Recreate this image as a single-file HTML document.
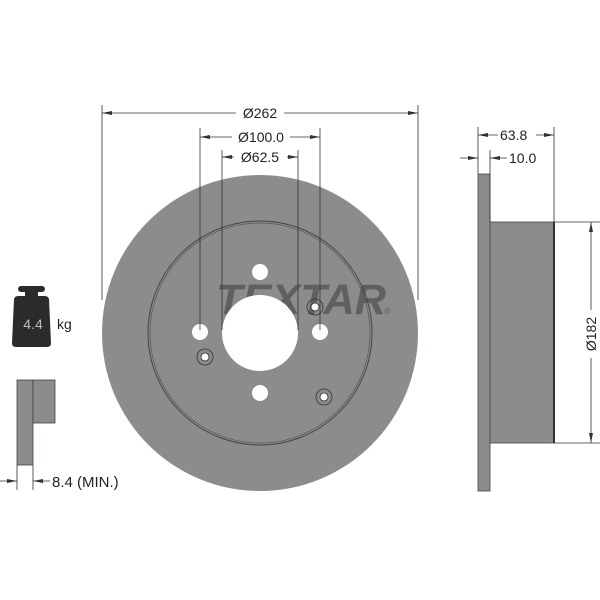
<!DOCTYPE html>
<html><head><meta charset="utf-8"><style>html,body{margin:0;padding:0;background:#fff}svg{display:block}</style></head><body>
<svg width="600" height="600" viewBox="0 0 600 600" xmlns="http://www.w3.org/2000/svg" font-family="Liberation Sans, sans-serif">
<defs>
<marker id="a" viewBox="0 0 10 6" refX="10" refY="3" markerWidth="10" markerHeight="6" orient="auto-start-reverse" markerUnits="userSpaceOnUse"><path d="M0,1 L10,3 L0,5 z" fill="#333"/></marker>
</defs>
<circle cx="260" cy="333" r="158" fill="#8a8c8e"/>
<text x="216" y="314" font-size="43" font-weight="bold" font-style="italic" fill="#5e6062" textLength="170" lengthAdjust="spacingAndGlyphs">TEXTAR</text>
<text x="384" y="314" font-size="9" fill="#5e6062">®</text>
<circle cx="260" cy="333" r="112" fill="none" stroke="#444" stroke-width="1"/>
<circle cx="260" cy="333" r="110" fill="none" stroke="#555" stroke-width="0.7"/>
<circle cx="260" cy="333" r="38" fill="#fff"/>
<g fill="#fff">
<circle cx="260" cy="272" r="8"/><circle cx="200" cy="332" r="8"/><circle cx="320" cy="332" r="8"/><circle cx="260" cy="393" r="8"/>
</g>
<g stroke="#333" stroke-width="0.8">
<circle cx="315" cy="307" r="8" fill="none"/><circle cx="315" cy="307" r="4" fill="#fff"/>
<circle cx="205" cy="357" r="8" fill="none"/><circle cx="205" cy="357" r="4" fill="#fff"/>
<circle cx="324" cy="397" r="8" fill="none"/><circle cx="324" cy="397" r="4" fill="#fff"/>
</g>
<g stroke="#333" stroke-width="0.8" fill="none">
<line x1="102" y1="105" x2="102" y2="300"/><line x1="418" y1="105" x2="418" y2="300"/>
<line x1="200" y1="128" x2="200" y2="330"/><line x1="320" y1="128" x2="320" y2="330"/>
<line x1="222" y1="150" x2="222" y2="330"/><line x1="298" y1="150" x2="298" y2="330"/>
<line x1="102" y1="113" x2="236" y2="113" marker-start="url(#a)"/><line x1="284" y1="113" x2="418" y2="113" marker-end="url(#a)"/>
<line x1="200" y1="137" x2="232" y2="137" marker-start="url(#a)"/><line x1="290" y1="137" x2="320" y2="137" marker-end="url(#a)"/>
<line x1="222" y1="157" x2="234" y2="157" marker-start="url(#a)"/><line x1="287" y1="157" x2="298" y2="157" marker-end="url(#a)"/>
</g>
<g font-size="14" fill="#222" text-anchor="middle">
<text x="260" y="118">Ø262</text>
<text x="261" y="142">Ø100.0</text>
<text x="260" y="162">Ø62.5</text>
</g>
<rect x="478" y="174" width="12" height="317" fill="#8a8c8e" stroke="#444" stroke-width="0.8"/>
<rect x="490" y="222" width="64" height="221" fill="#8a8c8e" stroke="#444" stroke-width="0.8"/>
<line x1="554" y1="222" x2="554" y2="443" stroke="#333" stroke-width="2"/>
<g stroke="#333" stroke-width="0.8" fill="none">
<line x1="478" y1="127" x2="478" y2="174"/><line x1="554" y1="127" x2="554" y2="222"/>
<line x1="490" y1="150" x2="490" y2="222"/>
<line x1="478" y1="135" x2="498" y2="135" marker-start="url(#a)"/><line x1="536" y1="135" x2="554" y2="135" marker-end="url(#a)"/>
<line x1="460" y1="158" x2="478" y2="158" marker-end="url(#a)"/><line x1="490" y1="158" x2="507" y2="158" marker-start="url(#a)"/>
<line x1="554" y1="222" x2="600" y2="222"/><line x1="554" y1="443" x2="600" y2="443"/>
<line x1="591" y1="222" x2="591" y2="310" marker-start="url(#a)"/><line x1="591" y1="358" x2="591" y2="443" marker-end="url(#a)"/>
</g>
<g font-size="14" fill="#222">
<text x="500" y="140">63.8</text>
<text x="509" y="163">10.0</text>
<text transform="translate(596,334) rotate(-90)" text-anchor="middle">Ø182</text>
</g>
<path d="M24,286 h18 a3,3 0 0 1 0,6 h-4 v4 h7 q3,0 4,3 l2,44 q0,4 -4,4 h-31 q-4,0 -4,-4 l2,-44 q1,-3 4,-3 h7 v-4 h-4 a3,3 0 0 1 0,-6z" fill="#2b2b2b"/>
<text x="33" y="329" font-size="14" fill="#bbb" text-anchor="middle">4.4</text>
<text x="57" y="329" font-size="14" fill="#222">kg</text>
<rect x="17" y="380" width="16" height="85" fill="#8a8c8e" stroke="#444" stroke-width="0.8"/>
<rect x="33" y="380" width="22" height="43" fill="#8a8c8e" stroke="#444" stroke-width="0.8"/>
<g stroke="#333" stroke-width="0.8" fill="none">
<line x1="17" y1="465" x2="17" y2="490"/><line x1="33" y1="465" x2="33" y2="490"/>
<line x1="0" y1="481" x2="17" y2="481" marker-end="url(#a)"/><line x1="33" y1="481" x2="50" y2="481" marker-start="url(#a)"/>
</g>
<text x="52" y="487" font-size="15" fill="#222">8.4 (MIN.)</text>
</svg>
</body></html>
